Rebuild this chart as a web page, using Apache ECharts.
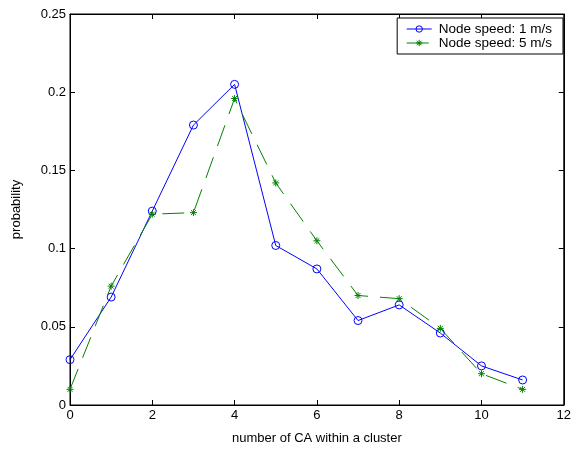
<!DOCTYPE html>
<html>
<head>
<meta charset="UTF-8">
<title>CA per cluster</title>
<script type="text/javascript" src="https://cdn.jsdelivr.net/npm/echarts@6/dist/echarts.min.js"></script>
<style>
  *{margin:0;padding:0}
  html,body{width:100%;height:100%;background:#fff}
  #main{width:574px;height:450px}
</style>
</head>
<body>
<div id="main"></div>
<script type="text/javascript">
  // 横轴：簇内 CA 个数
  var caCount = [0, 1, 2, 3, 4, 5, 6, 7, 8, 9, 10, 11];
  var speed1 = [0.029, 0.069, 0.124, 0.179, 0.205, 0.102, 0.087, 0.054, 0.064, 0.046, 0.025, 0.016];
  var speed5 = [0.010, 0.076, 0.122, 0.123, 0.196, 0.142, 0.105, 0.070, 0.068, 0.049, 0.020, 0.010];
  var seriesNames = ['Node speed: 1 m/s', 'Node speed: 5 m/s'];

  function pairs(xs, ys) {
    return xs.map(function (x, i) { return [x, ys[i]]; });
  }

  // 星号标记
  var star = 'path://M5,0L5,10M0,5L10,5M1.5,1.5L8.5,8.5M8.5,1.5L1.5,8.5';
  var font = 'Liberation Sans';

  var tickAxis = {
    axisLine: {show: true, onZero: false, lineStyle: {color: '#000', width: 1}},
    axisTick: {show: true, inside: true, length: 5, lineStyle: {color: '#000'}},
    splitLine: {show: false},
    axisLabel: {color: '#000', fontSize: 13, fontFamily: font, margin: 4}
  };

  var option = {
    animation: false,
    textStyle: {fontFamily: font},
    grid: {left: 70, right: 6, top: 14, bottom: 45, show: true, borderColor: '#000', borderWidth: 1},
    legend: {
      orient: 'vertical',
      right: 11, top: 18,
      data: seriesNames,
      backgroundColor: '#fff',
      borderColor: '#000', borderWidth: 1,
      borderRadius: 0,
      padding: [4, 11, 4, 9],
      itemGap: 0, itemWidth: 25, itemHeight: 8,
      itemStyle: {borderWidth: 1},
      lineStyle: {width: 1},
      textStyle: {fontSize: 13.5, color: '#000', fontFamily: font, padding: [0, 0, 0, 2]}
    },
    xAxis: [
      Object.assign({}, tickAxis, {
        type: 'value', min: 0, max: 12, interval: 2,
        name: 'number of CA within a cluster',
        nameLocation: 'middle', nameGap: 27,
        nameTextStyle: {fontSize: 13, color: '#000', fontFamily: font}
      }),
      Object.assign({}, tickAxis, {
        type: 'value', min: 0, max: 12, interval: 2, position: 'top',
        axisLabel: {show: false}
      })
    ],
    yAxis: [
      Object.assign({}, tickAxis, {
        type: 'value', min: 0, max: 0.25, interval: 0.05,
        name: 'probability',
        nameLocation: 'middle', nameGap: 47,
        nameTextStyle: {fontSize: 13, color: '#000', fontFamily: font},
        axisLabel: {color: '#000', fontSize: 13, fontFamily: font, margin: 4,
          formatter: function (v) { return String(+v.toFixed(2)); }}
      }),
      Object.assign({}, tickAxis, {
        type: 'value', min: 0, max: 0.25, interval: 0.05, position: 'right',
        axisLabel: {show: false}
      })
    ],
    series: [
      {
        name: seriesNames[0],
        type: 'line',
        data: pairs(caCount, speed1),
        symbol: 'circle', symbolSize: 8,
        itemStyle: {color: 'rgba(255,255,255,0)', borderColor: '#0000ff', borderWidth: 1},
        lineStyle: {color: '#0000ff', width: 1}
      },
      {
        name: seriesNames[1],
        type: 'line',
        data: pairs(caCount, speed5),
        symbol: star, symbolSize: 7,
        itemStyle: {color: '#008000', borderColor: '#008000', borderWidth: 1},
        lineStyle: {color: '#008000', width: 1, type: [22, 12]}
      }
    ]
  };

  var myChart = echarts.init(document.getElementById('main'));
  myChart.setOption(option);
</script>
</body>
</html>
